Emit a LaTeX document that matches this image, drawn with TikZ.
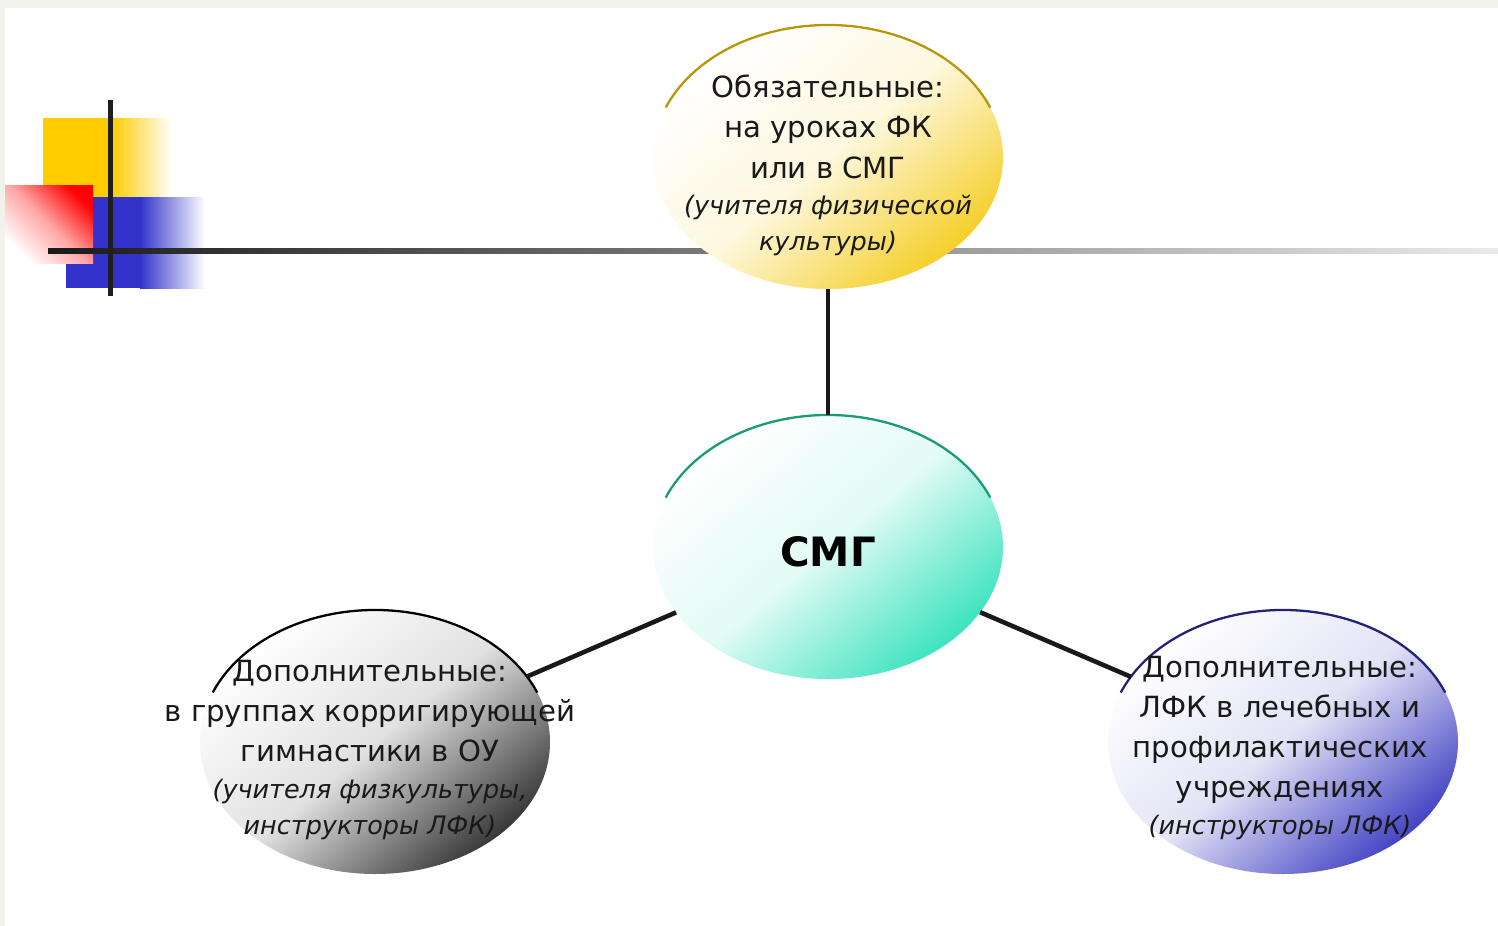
\documentclass[tikz,border=0pt]{standalone}
\usepackage{fontspec}
\setmainfont{DejaVu Sans}
\usetikzlibrary{shapes.geometric}
\definecolor{framegrey}{HTML}{F2F2EC}
\definecolor{decoyellow}{HTML}{FFCC00}
\definecolor{decoblue}{HTML}{3333CC}
\definecolor{ovyellow}{HTML}{F5CF2A}
\definecolor{ovgold}{HTML}{B8960A}
\definecolor{ovteal}{HTML}{3DE3BE}
\definecolor{ovtealdark}{HTML}{1A9A78}
\definecolor{ovgrey}{HTML}{383838}
\definecolor{ovblue}{HTML}{4444C4}
\definecolor{ovnavy}{HTML}{22227A}
\newcommand{\remark}[1]{{\fontsize{14.5}{20}\selectfont\itshape #1}}

\begin{document}
\begin{tikzpicture}[x=0.2mm,y=-0.2mm,
	oval/.style={ellipse,minimum width=70mm,minimum height=52.8mm,inner sep=0pt,outer sep=0pt},
	tint/.style={top color=white,bottom color=#1,middle color=#1!15,shading angle=40},
	rim/.style={line width=1.3pt},
	conn/.style={line width=2.6pt,black!90},
	txt/.style={align=center,font=\fontsize{16.6}{22.8}\selectfont,text=black!90}]
		\fill[white] (0,0) rectangle (1498,926);
		\useasboundingbox (0,0) rectangle (1498,926);
		\fill[framegrey] (0,0) rectangle (1498,8);
		\fill[framegrey] (0,0) rectangle (5,926);
		% corner squares
		\fill[decoyellow] (43,118) rectangle (112,197);
		\shade[left color=decoyellow,right color=white] (112,118) rectangle (172,197);
		\fill[decoblue] (66,197) rectangle (140,288);
		\shade[left color=decoblue,right color=white] (140,197) rectangle (205,288);
		\shade[top color=red,bottom color=white,middle color=red!35,shading angle=-45] (5,185) rectangle (93,263);
		\shade[left color=black!90,right color=black!8] (48,248) rectangle (1498,253);
		\fill[black!88] (108,100) rectangle (113,296);
		% ovals
		\node[oval,tint=ovyellow] (obl) at (828,157) {};
		\node[oval,tint=ovteal] (smg) at (828,547) {};
		\node[oval,tint=ovgrey] (grp) at (375,742) {};
		\node[oval,tint=ovblue] (lfk) at (1283,742) {};
		\draw[rim,ovgold] (obl.center) ++(158:35mm and 26.4mm) arc[start angle=158,end angle=22,x radius=35mm,y radius=26.4mm];
		\draw[rim,ovtealdark] (smg.center) ++(158:35mm and 26.4mm) arc[start angle=158,end angle=22,x radius=35mm,y radius=26.4mm];
		\draw[rim,black] (grp.center) ++(158:35mm and 26.4mm) arc[start angle=158,end angle=22,x radius=35mm,y radius=26.4mm];
		\draw[rim,ovnavy] (lfk.center) ++(158:35mm and 26.4mm) arc[start angle=158,end angle=22,x radius=35mm,y radius=26.4mm];
		\draw[conn] (obl) -- (smg);
		\draw[conn] (smg) -- (grp);
		\draw[conn] (smg) -- (lfk);
		% texts
		\node[txt] (obltext) at (828,165.5) {Обязательные:\\ на уроках ФК\\ или в СМГ\\[-2.2pt] \remark{(учителя физической}\\[-2.2pt] \remark{культуры)}};
		\node[font=\fontsize{23}{28}\selectfont\bfseries,text=black] (smgtext) at (828,552) {СМГ};
		\node[txt] (grptext) at (370,750) {Дополнительные:\\ в группах корригирующей\\ гимнастики в ОУ\\[-2.2pt] \remark{(учителя физкультуры,}\\[-2.2pt] \remark{инструкторы ЛФК)}};
		\node[txt] (lfktext) at (1280,748) {Дополнительные:\\ ЛФК в лечебных и\\ профилактических\\ учреждениях\\[-2.2pt] \remark{(инструкторы ЛФК)}};
	\end{tikzpicture}
\end{document}
